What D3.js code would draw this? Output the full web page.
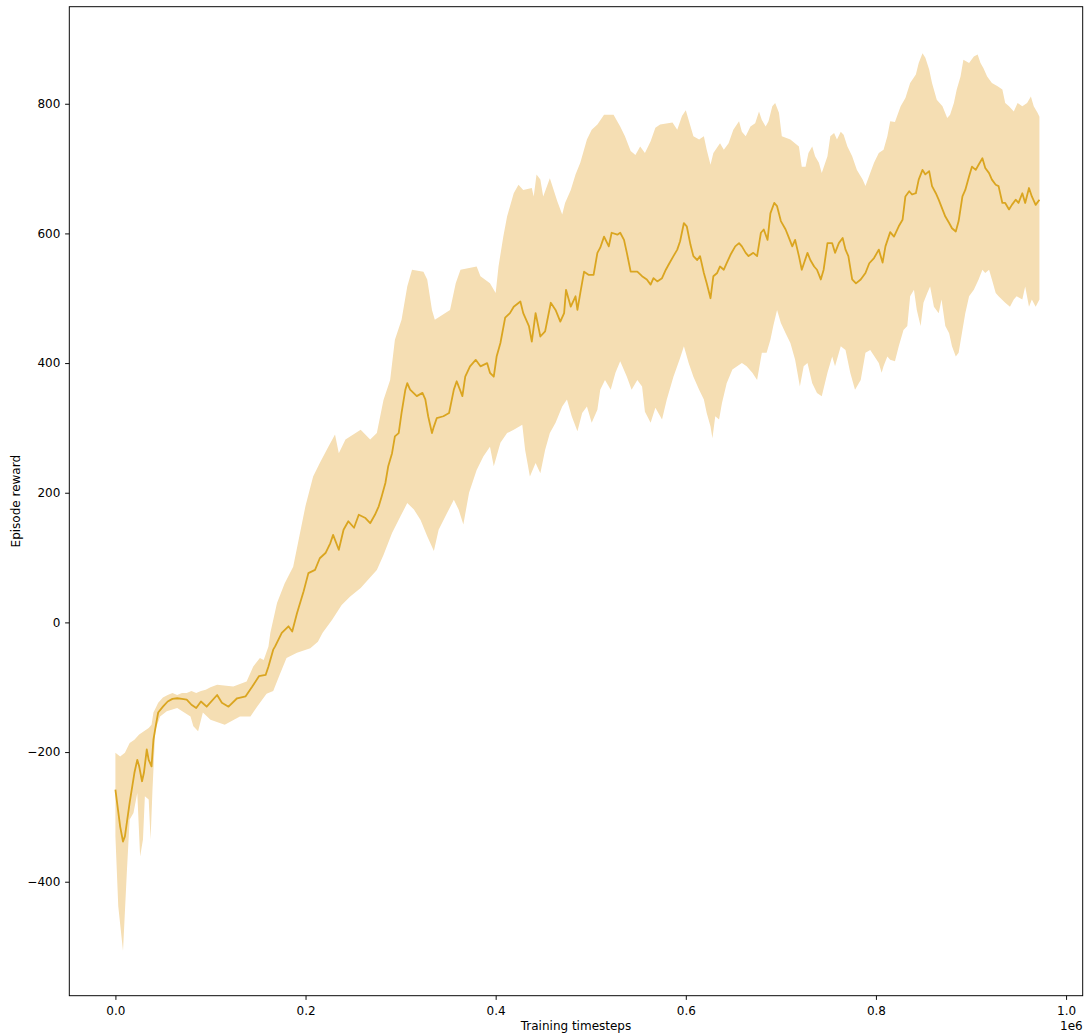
<!DOCTYPE html>
<html>
<head>
<meta charset="utf-8">
<script src="https://cdn.jsdelivr.net/npm/d3@7"></script>
<style>
  body { margin: 0; background: #fff; }
  svg { display: block; font-family: "DejaVu Sans", sans-serif; }
</style>
</head>
<body>
<svg id="chart" width="1084" height="1035"></svg>
<script>
// [training step (thousands), episode reward] — running mean over seeds
const meanCurve = [[0,-258],[5,-315],[8,-338],[10,-330],[15,-278],[20,-232],[23,-212],[25,-222],[28,-245],[30,-232],[33,-196],[35,-212],[38,-222],[40,-181],[43,-155],[45,-139],[50,-130],[55,-122],[60,-118],[65,-117],[70,-118],[75,-119],[80,-127],[85,-132],[90,-122],[96,-130],[107,-112],[112,-124],[119,-130],[128,-117],[137,-114],[144,-99],[151,-83],[158,-81],[161,-68],[166,-42],[168,-37],[175,-16],[182,-6],[186,-14],[191,14],[198,48],[203,76],[210,81],[215,99],[221,107],[226,122],[229,135],[235,112],[240,143],[245,156],[251,146],[256,166],[263,161],[268,153],[273,166],[277,179],[280,194],[284,215],[287,241],[291,261],[294,287],[298,292],[301,323],[305,359],[307,369],[310,359],[317,349],[323,354],[326,344],[329,318],[333,292],[335,302],[338,315],[345,318],[351,323],[356,359],[359,372],[365,349],[368,379],[373,395],[379,405],[384,395],[391,400],[394,385],[398,379],[401,410],[405,431],[410,470],[415,477],[419,487],[426,495],[429,477],[435,457],[438,433],[442,477],[447,441],[452,449],[458,493],[463,482],[468,464],[472,477],[474,513],[479,487],[484,503],[486,482],[489,508],[493,541],[498,536],[503,536],[507,570],[510,578],[514,595],[519,580],[522,601],[528,598],[531,601],[535,590],[538,570],[542,541],[549,541],[554,534],[559,529],[563,521],[566,531],[570,526],[575,531],[579,544],[582,552],[587,565],[591,575],[594,588],[598,616],[601,611],[605,582],[608,565],[612,559],[615,565],[619,539],[622,523],[626,500],[629,534],[633,539],[636,549],[640,544],[643,554],[647,567],[652,580],[656,585],[659,580],[663,570],[666,565],[671,570],[675,565],[679,601],[682,606],[686,590],[689,631],[693,647],[696,642],[700,619],[705,606],[708,595],[712,580],[715,590],[719,565],[722,544],[728,570],[731,559],[735,549],[738,544],[742,529],[745,544],[749,585],[754,585],[757,570],[761,585],[765,593],[768,575],[771,565],[775,529],[779,523],[784,529],[789,539],[793,554],[798,562],[803,575],[807,555],[810,580],[815,602],[819,595],[824,611],[828,621],[831,657],[835,665],[838,660],[842,662],[845,683],[849,698],[852,691],[856,696],[859,673],[863,662],[866,652],[870,637],[873,626],[877,616],[880,608],[884,603],[887,619],[891,657],[894,667],[898,688],[901,703],[905,698],[908,706],[912,716],[915,701],[919,693],[922,683],[926,675],[929,673],[933,647],[936,647],[940,637],[943,644],[947,652],[950,647],[954,662],[957,647],[961,670],[964,657],[968,644],[972,652]];

// upper edge of the spread band
const upperCurve = [[0,-201],[5,-207],[10,-201],[15,-186],[20,-181],[25,-173],[30,-168],[35,-163],[38,-158],[40,-139],[43,-130],[45,-124],[50,-116],[55,-112],[60,-109],[65,-112],[70,-109],[75,-109],[80,-106],[85,-109],[90,-106],[95,-104],[100,-100],[107,-96],[124,-99],[138,-91],[145,-68],[152,-55],[156,-58],[161,-37],[163,-16],[170,30],[178,60],[187,86],[200,180],[208,225],[215,246],[224,271],[231,290],[235,261],[242,282],[258,297],[268,282],[275,292],[282,343],[289,374],[294,436],[301,467],[307,518],[312,544],[324,541],[328,529],[333,482],[336,467],[352,482],[358,523],[363,544],[380,549],[384,534],[394,523],[400,508],[403,549],[408,595],[412,626],[419,662],[424,675],[429,667],[438,670],[440,657],[443,691],[447,683],[450,657],[457,685],[465,649],[470,629],[473,647],[479,667],[484,691],[489,709],[496,745],[501,760],[507,768],[514,783],[524,783],[531,765],[536,750],[542,727],[547,721],[552,734],[557,724],[563,742],[568,763],[573,768],[586,771],[591,760],[596,781],[600,790],[603,775],[605,765],[608,750],[614,745],[619,750],[622,729],[626,706],[629,724],[636,739],[640,729],[645,739],[650,760],[656,773],[659,757],[663,750],[668,765],[673,770],[677,788],[680,775],[684,765],[687,773],[691,796],[694,801],[698,786],[701,750],[710,745],[719,734],[722,703],[726,703],[729,724],[733,734],[736,719],[740,709],[743,693],[749,719],[752,750],[756,755],[759,745],[763,757],[766,752],[770,734],[775,719],[780,698],[786,683],[789,673],[794,693],[798,709],[803,724],[808,729],[812,750],[815,773],[820,772],[826,796],[831,809],[836,832],[842,845],[845,863],[849,878],[852,871],[856,853],[859,832],[864,806],[870,796],[875,778],[878,783],[882,801],[885,822],[889,842],[892,868],[898,863],[903,873],[907,876],[910,863],[913,855],[917,842],[922,832],[928,827],[933,822],[936,801],[940,796],[945,788],[949,801],[954,796],[959,801],[963,811],[966,796],[970,786],[972,780]];

// lower edge of the spread band
const lowerCurve = [[0,-330],[3,-438],[8,-507],[12,-386],[15,-304],[19,-294],[23,-263],[26,-361],[29,-335],[31,-268],[35,-273],[37,-335],[39,-258],[42,-166],[47,-145],[54,-137],[65,-132],[79,-145],[82,-160],[87,-168],[92,-139],[100,-150],[115,-158],[131,-145],[142,-145],[149,-130],[159,-110],[166,-106],[173,-80],[180,-55],[191,-47],[205,-40],[213,-30],[218,-16],[228,4],[238,27],[247,40],[258,53],[266,66],[275,81],[282,104],[291,138],[300,164],[307,184],[314,174],[321,158],[328,133],[335,110],[340,143],[349,169],[356,189],[361,174],[366,151],[372,200],[380,235],[387,256],[394,271],[398,241],[405,277],[412,292],[419,297],[428,305],[431,266],[436,225],[442,246],[447,230],[452,266],[457,292],[463,308],[470,333],[475,344],[480,318],[486,295],[491,323],[496,333],[501,308],[507,328],[510,359],[515,374],[521,359],[526,385],[531,403],[538,379],[543,359],[549,374],[554,364],[557,325],[563,308],[568,331],[575,313],[580,344],[587,379],[594,408],[598,426],[603,400],[608,379],[614,359],[619,344],[622,323],[626,302],[628,284],[631,318],[635,313],[638,338],[643,369],[649,390],[654,395],[659,400],[664,395],[670,385],[675,374],[680,416],[685,416],[689,436],[692,457],[696,482],[700,462],[705,446],[710,431],[715,405],[720,364],[724,395],[728,400],[733,369],[738,354],[743,349],[749,385],[754,410],[757,395],[763,426],[768,420],[773,385],[778,359],[784,374],[789,416],[794,420],[803,400],[806,385],[808,395],[812,410],[815,405],[820,403],[824,426],[829,451],[833,457],[836,503],[840,513],[843,482],[847,457],[850,493],[854,508],[857,518],[861,487],[866,477],[869,498],[873,457],[877,446],[880,426],[884,410],[887,416],[891,451],[894,477],[898,503],[903,513],[908,529],[912,544],[915,539],[919,544],[922,529],[926,508],[929,503],[936,493],[941,487],[945,498],[948,503],[954,498],[957,518],[961,487],[964,498],[968,487],[972,498]];

const xTicks = [0, 200, 400, 600, 800, 1000];
const xTickLabels = ["0.0", "0.2", "0.4", "0.6", "0.8", "1.0"];
const yTicks = [-400, -200, 0, 200, 400, 600, 800];
const yTickLabels = ["\u2212400", "\u2212200", "0", "200", "400", "600", "800"];

const frame = { left: 69.3, right: 1082.7, top: 6.7, bottom: 995.7 };
const fontSize = 12;

const svg = d3.select("#chart");

const x = d3.scaleLinear().domain([-48.5, 1017.5]).range([frame.left, frame.right]);
const y = d3.scaleLinear().domain([-575.8, 949.7]).range([frame.bottom, frame.top]);

svg.append("defs").append("clipPath").attr("id", "plot-clip")
  .append("rect")
  .attr("x", frame.left).attr("y", frame.top)
  .attr("width", frame.right - frame.left).attr("height", frame.bottom - frame.top);

const plot = svg.append("g").attr("clip-path", "url(#plot-clip)");

// spread band: upper edge forward, lower edge back
const edge = d3.line().x(d => x(d[0])).y(d => y(d[1]));
const bandPts = upperCurve.concat(lowerCurve.slice().reverse());
plot.append("path")
  .attr("d", edge(bandPts) + "Z")
  .attr("fill", "#f5deb3")
  .attr("stroke", "none");

plot.append("path")
  .datum(meanCurve)
  .attr("d", edge)
  .attr("fill", "none")
  .attr("stroke", "#daa520")
  .attr("stroke-width", 1.8)
  .attr("stroke-linejoin", "round");

// axes
const xAxis = d3.axisBottom(x)
  .tickValues(xTicks)
  .tickFormat((d, i) => xTickLabels[i])
  .tickSize(4.2).tickPadding(6.3);
const gx = svg.append("g").attr("transform", `translate(0,${frame.bottom})`).call(xAxis);

const yAxis = d3.axisLeft(y)
  .tickValues(yTicks)
  .tickFormat((d, i) => yTickLabels[i])
  .tickSize(4.2).tickPadding(4.8);
const gy = svg.append("g").attr("transform", `translate(${frame.left},0)`).call(yAxis);

[gx, gy].forEach(g => {
  g.select(".domain").remove();
  g.attr("font-family", "DejaVu Sans, sans-serif").attr("font-size", fontSize);
  g.selectAll(".tick line").attr("stroke", "#000").attr("stroke-width", 0.96);
  g.selectAll(".tick text").attr("fill", "#000");
});

// axes frame
svg.append("rect")
  .attr("x", frame.left).attr("y", frame.top)
  .attr("width", frame.right - frame.left).attr("height", frame.bottom - frame.top)
  .attr("fill", "none").attr("stroke", "#000").attr("stroke-width", 0.96);

// offset text for the x axis
svg.append("text")
  .attr("x", frame.right).attr("y", 1030)
  .attr("text-anchor", "end")
  .attr("font-size", fontSize).attr("fill", "#000")
  .text("1e6");

svg.append("text")
  .attr("x", (frame.left + frame.right) / 2).attr("y", 1030)
  .attr("text-anchor", "middle")
  .attr("font-size", fontSize).attr("fill", "#000")
  .text("Training timesteps");

svg.append("text")
  .attr("transform", `translate(20,${(frame.top + frame.bottom) / 2}) rotate(-90)`)
  .attr("text-anchor", "middle")
  .attr("font-size", fontSize).attr("fill", "#000")
  .text("Episode reward");
</script>
</body>
</html>
